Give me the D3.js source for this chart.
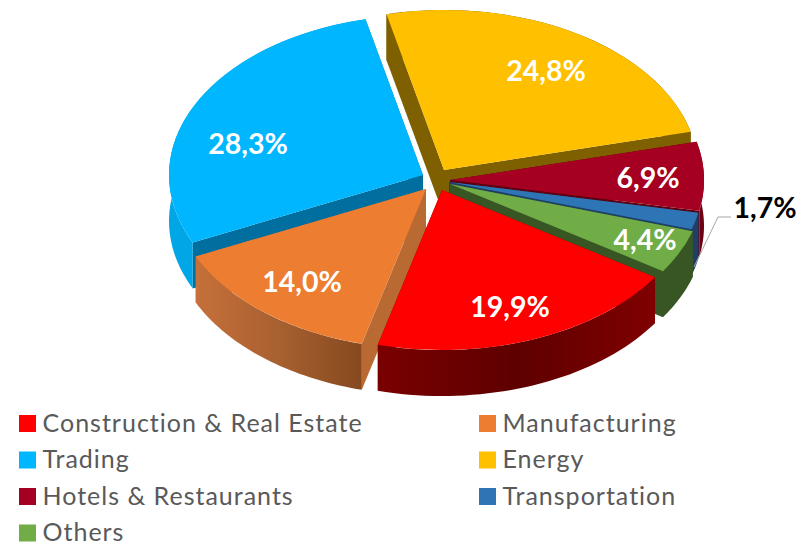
<!DOCTYPE html>
<html>
<head>
<meta charset="utf-8">
<script src="https://cdnjs.cloudflare.com/ajax/libs/d3/7.8.5/d3.min.js"></script>
<style>
  html, body { margin: 0; padding: 0; background: #fff; }
  text { font-family: Lato, "Open Sans", sans-serif; font-variant-ligatures: none; }
</style>
</head>
<body>
<svg id="chart"></svg>
<script>
// Chart data
var categories = ["Construction & Real Estate", "Manufacturing", "Trading", "Energy", "Hotels & Restaurants", "Transportation", "Others"];
var shares = [19.9, 14.0, 28.3, 24.8, 6.9, 1.7, 4.4];

// Slice styling, same order as categories
var topColors = ["#ff0000", "#ed7d31", "#00b7ff", "#ffc000", "#a50021", "#2e75b6", "#70ad47"];
var sideColors = ["#6a0000", "#b96a33", "#006f9f", "#7f6000", "#5c0012", "#1f3f66", "#375623"];
var rimStops = [["#800000", "#5e0000", "#7a0000"], ["#86491f", "#a86030", "#c6703a"], ["#00a6e6", "#00a6e6"], ["#7f6000", "#7f6000"], ["#6e0016", "#6e0016"], ["#1f3f66", "#1f3f66"], ["#375623", "#375623"]];

// How far each slice is pulled out of the pie
var pullX = [-8, -24, -27, -6, 0, -1, 0];
var pullY = [8, 7, -7, -12, -2, 0, 2];

// Hand placed labels
var labelX = [510, 302, 248, 546, 648, 765, 645];
var labelY = [307, 282, 144, 71, 178, 208, 240];
var labelFill = ["#fff", "#fff", "#fff", "#fff", "#fff", "#000", "#fff"];

// Back slices first so the front ones cover them
var drawOrder = [3, 2, 4, 5, 1, 6, 0];

// Size params
var width = 809, height = 544;
var cx = 450, cy = 182, rx = 254, ry = 160, depth = 46;

var svg = d3.select("#chart")
    .attr("width", width)
    .attr("height", height)
    .style("display", "block");

var defs = svg.append("defs");

var pie = d3.pie()
    .sort(null)
    .startAngle(123 * Math.PI / 180)
    .endAngle((123 + 360) * Math.PI / 180);

var arcs = pie(shares);

var arc = d3.arc().innerRadius(0).outerRadius(rx);
var line = d3.line();

// Point on the pie rim for an angle
function rim(a, dy) {
  return [rx * Math.sin(a), -ry * Math.cos(a) + dy];
}

function radialWall(a) {
  return line([[0, 0], rim(a, 0), rim(a, depth), [0, depth]]) + "Z";
}

function rimWall(d) {
  var steps = d3.range(0, 41).map(function(k) { return d.startAngle + (d.endAngle - d.startAngle) * k / 40; });
  var upper = steps.map(function(a) { return rim(a, 0); });
  var lower = steps.slice().reverse().map(function(a) { return rim(a, depth); });
  return line(upper.concat(lower)) + "Z";
}

// Gradients for the outer walls
arcs.forEach(function(d, i) {
  var xs = d3.range(0, 41).map(function(k) { return rim(d.startAngle + (d.endAngle - d.startAngle) * k / 40, 0)[0]; });
  var grad = defs.append("linearGradient")
      .attr("id", "rim" + i)
      .attr("gradientUnits", "userSpaceOnUse")
      .attr("x1", d3.max(xs)).attr("x2", d3.min(xs))
      .attr("y1", 0).attr("y2", 0);
  rimStops[i].forEach(function(c, k) {
    grad.append("stop")
        .attr("offset", k / (rimStops[i].length - 1))
        .attr("stop-color", c);
  });
});

// Slices
var slice = svg.selectAll(".slice")
    .data(drawOrder)
  .enter().append("g")
    .attr("class", "slice")
    .attr("transform", function(i) { return "translate(" + (cx + pullX[i]) + "," + (cy + pullY[i]) + ")"; });

slice.append("path")
    .attr("d", function(i) { return radialWall(arcs[i].startAngle); })
    .attr("fill", function(i) { return sideColors[i]; });

slice.append("path")
    .attr("d", function(i) { return radialWall(arcs[i].endAngle); })
    .attr("fill", function(i) { return sideColors[i]; });

slice.append("path")
    .attr("d", function(i) { return rimWall(arcs[i]); })
    .attr("fill", function(i) { return "url(#rim" + i + ")"; });

slice.append("path")
    .attr("transform", "scale(1," + (ry / rx) + ")")
    .attr("d", function(i) { return arc(arcs[i]); })
    .attr("fill", function(i) { return topColors[i]; });

// Leader line for the small slice
svg.append("path")
    .attr("d", line([[694, 267], [718, 217], [731, 217]]))
    .attr("fill", "none")
    .attr("stroke", "#a6a6a6")
    .attr("stroke-width", 1);

// Value labels
svg.selectAll(".value")
    .data(shares)
  .enter().append("text")
    .attr("class", "value")
    .attr("x", function(d, i) { return labelX[i]; })
    .attr("y", function(d, i) { return labelY[i]; })
    .attr("dy", ".35em")
    .attr("text-anchor", "middle")
    .attr("font-size", 28.5)
    .attr("font-weight", 700)
    .attr("fill", function(d, i) { return labelFill[i]; })
    .text(function(d) { return d3.format(".1f")(d).replace(".", ",") + "%"; });

// Legend, two columns filled row by row
var legendCol = d3.scalePoint().domain([0, 1]).range([19, 479]);
var legendRow = d3.scalePoint().domain([0, 1, 2, 3]).range([423.5, 533]);

var legend = svg.selectAll(".legend")
    .data(categories)
  .enter().append("g")
    .attr("class", "legend")
    .attr("transform", function(d, i) { return "translate(" + legendCol(i % 2) + "," + legendRow(Math.floor(i / 2)) + ")"; });

legend.append("rect")
    .attr("y", -8.5)
    .attr("width", 17)
    .attr("height", 17)
    .attr("fill", function(d, i) { return topColors[i]; });

legend.append("text")
    .attr("x", 23.5)
    .attr("y", -1)
    .attr("dy", ".36em")
    .attr("font-size", 25)
    .attr("letter-spacing", 1)
    .attr("fill", "#595959")
    .text(function(d) { return d; });
</script>
</body>
</html>
